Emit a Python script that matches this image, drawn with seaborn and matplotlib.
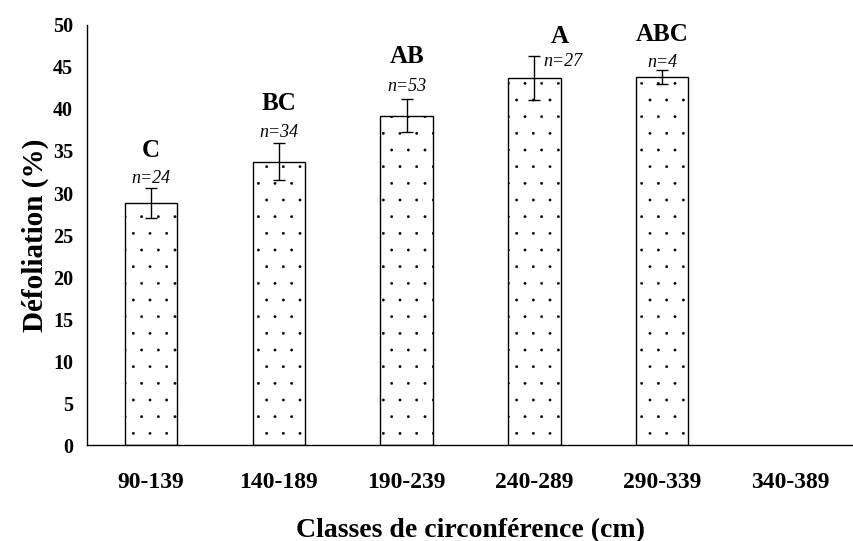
import matplotlib
matplotlib.use("Agg")
import matplotlib.pyplot as plt
import matplotlib.hatch as mhatch
import seaborn as sns
import pandas as pd
import numpy as np

categories = ["90-139", "140-189", "190-239", "240-289", "290-339", "340-389"]
bar_cats = ["90-139", "140-189", "190-239", "240-289", "290-339"]
defoliation = [28.8, 33.7, 39.2, 43.7, 43.8]
errors = [1.8, 2.2, 2.0, 2.6, 0.8]
letters = ["C", "BC", "AB", "A", "ABC"]
n_labels = ["n=24", "n=34", "n=53", "n=27", "n=4"]

sns.set_style("white")
plt.rcParams['font.family'] = ['Liberation Serif', 'DejaVu Serif']
plt.rcParams['hatch.linewidth'] = 0.3
plt.rcParams['hatch.color'] = '#333333'
for k in ['text.color', 'axes.labelcolor', 'xtick.color', 'ytick.color']:
    plt.rcParams[k] = 'black'

# smaller dots for the '.' hatch
mhatch.SmallFilledCircles.size = 0.07

df = pd.DataFrame({"classe": bar_cats, "defol": defoliation})

fig = plt.figure(figsize=(8.54, 5.41), dpi=100)
ax = fig.add_axes([0.102, 0.177, 0.898, 0.777])

sns.barplot(data=df, x="classe", y="defol", order=categories, ax=ax,
            color="white", edgecolor="black", linewidth=1.0, width=0.41,
            hatch=".", errorbar=None)

xpos = [categories.index(c) for c in bar_cats]
ax.errorbar(xpos, defoliation, yerr=errors, fmt="none", ecolor="black",
            elinewidth=1.0, capsize=4, capthick=1.0)

# annotations
n_offsets = [(0, 31.7), (0, 37.2), (0, 42.7), (0.22, 45.6), (0, 45.5)]
l_offsets = [(0, 35.0), (0, 40.7), (0, 46.2), (0.2, 48.6), (0, 48.8)]
for i, x in enumerate(xpos):
    dx, yv = n_offsets[i]
    ax.text(x + dx, yv, n_labels[i], ha="center", va="center",
            fontsize=13, style="italic")
    dx, yv = l_offsets[i]
    ax.text(x + dx, yv, letters[i], ha="center", va="center",
            fontsize=18, fontweight="bold")

ax.set_ylim(0, 50)
ax.set_yticks(np.arange(0, 51, 5))
ax.set_xlim(-0.5, 5.42)
ax.set_xticks(range(len(categories)))
ax.set_xticklabels(categories, fontsize=17, fontweight="bold")
ax.set_xticks(np.arange(-0.5, 6, 1), minor=True)
ax.tick_params(axis="x", which="major", length=0, pad=19)
ax.tick_params(axis="x", which="minor", length=6, width=1, direction="out", color="black")
ax.tick_params(axis="y", length=6, width=1, direction="out", color="black", pad=4)
for lab in ax.get_yticklabels():
    lab.set_fontweight("bold")
    lab.set_fontsize(14.5)

for s in ["top", "right"]:
    ax.spines[s].set_visible(False)
for s in ["left", "bottom"]:
    ax.spines[s].set_color("black")
    ax.spines[s].set_linewidth(1.0)

ax.set_xlabel("Classes de circonférence (cm)", fontsize=20, fontweight="bold", labelpad=18)
ax.set_ylabel("Défoliation (%)", fontsize=21, fontweight="bold", labelpad=3)

fig.savefig("out.png", dpi=100)
